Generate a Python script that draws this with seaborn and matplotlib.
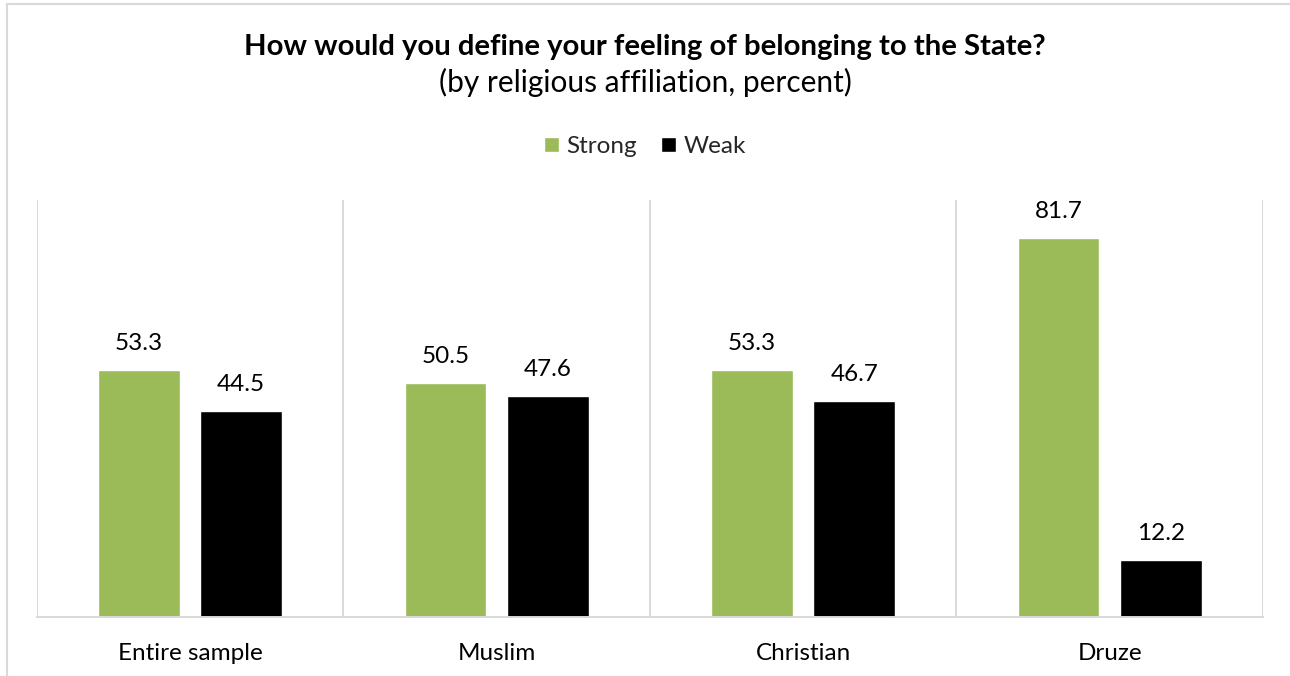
import matplotlib
matplotlib.use("Agg")
import matplotlib.pyplot as plt
import seaborn as sns
import pandas as pd
from matplotlib.lines import Line2D

# Survey results by religious affiliation (percent)
groups = ["Entire sample", "Muslim", "Christian", "Druze"]
series = ["Strong", "Weak"]
strong = [53.3, 50.5, 53.3, 81.7]
weak = [44.5, 47.6, 46.7, 12.2]

df = pd.DataFrame({
    "group": groups * 2,
    "feeling": [series[0]] * len(groups) + [series[1]] * len(groups),
    "pct": strong + weak,
})

sns.set_theme(style="white")
plt.rcParams["font.family"] = ["Lato", "DejaVu Sans"]

W, H = 1290, 676
fig = plt.figure(figsize=(W / 100, H / 100), dpi=100)
ax = fig.add_axes([36.7 / W, 59 / H, (1263 - 36.7) / W, (617 - 200) / H])

sns.barplot(
    data=df, x="group", y="pct", hue="feeling", order=groups, hue_order=series,
    palette={"Strong": "#9BBB59", "Weak": "#000000"}, saturation=1,
    width=0.667, gap=0.2, errorbar=None, ax=ax,
)

# value labels above each bar
for container in ax.containers:
    for bar in container:
        h = bar.get_height()
        ax.annotate(f"{h:.1f}", (bar.get_x() + bar.get_width() / 2, h),
                    xytext=(0, 14.4), textcoords="offset points",
                    ha="center", va="baseline", fontsize=17.5, color="#000000")

ax.set_xlim(-0.5, len(groups) - 0.5)
ax.set_ylim(0, 90)
ax.set_yticks([])
ax.set_xlabel("")
ax.set_ylabel("")
for x in [i - 0.5 for i in range(len(groups) + 1)]:
    ax.axvline(x, color="#D9D9D9", lw=1.4, zorder=0)
for s in ["top", "left", "right"]:
    ax.spines[s].set_visible(False)
ax.spines["bottom"].set_color("#D9D9D9")
ax.spines["bottom"].set_linewidth(1.4)
ax.tick_params(axis="x", length=0, pad=19, labelsize=17.5, labelcolor="#000000")

handles, labels = ax.get_legend_handles_labels()
ax.get_legend().remove()
fig.legend(handles, labels, loc="center", bbox_to_anchor=(0.5, 1 - 146.5 / H),
           ncol=2, frameon=False, fontsize=17.5, handlelength=0.62, handleheight=0.62,
           handletextpad=0.3, columnspacing=1.0)

fig.text(0.5, 1 - 55 / H, "How would you define your feeling of belonging to the State?",
         ha="center", va="baseline", fontsize=21.1, fontweight="bold", color="#000000")
fig.text(0.5, 1 - 92 / H, "(by religious affiliation, percent)",
         ha="center", va="baseline", fontsize=21.5, color="#000000")

# chart frame (top and left edges)
fig.add_artist(Line2D([7 / W, 1], [1 - 4 / H, 1 - 4 / H], transform=fig.transFigure,
                      color="#D9D9D9", lw=1.5))
fig.add_artist(Line2D([7 / W, 7 / W], [0, 1 - 4 / H], transform=fig.transFigure,
                      color="#D9D9D9", lw=1.5))

fig.savefig("out.png", dpi=100, facecolor="white")
